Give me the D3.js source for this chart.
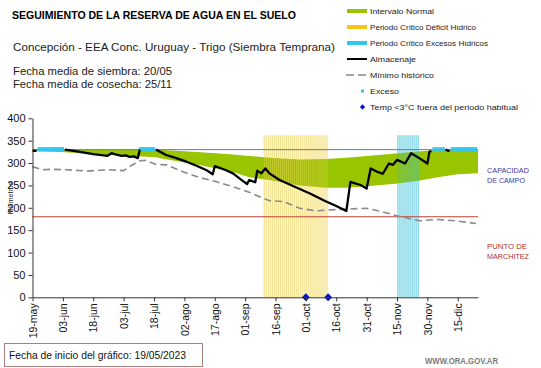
<!DOCTYPE html>
<html><head><meta charset="utf-8">
<script src="https://cdn.jsdelivr.net/npm/d3@7"></script>
<style>body{margin:0;background:#fff}svg{display:block;font-family:"Liberation Sans",Arial,sans-serif}</style>
</head><body>
<svg id="c" width="541" height="368"></svg>
<script>
// ---- data (days counted from 19-may-2023) ----
const startDate = "2023-05-19";
const endDay = 220;
const tickDays = [0,15,30,45,60,75,90,105,120,135,150,165,180,195,210];
const tickLabels = ["19-may","03-jun","18-jun","03-jul","18-jul","02-ago","17-ago","01-sep","16-sep","01-oct","16-oct","31-oct","15-nov","30-nov","15-dic"];
const yTicks = [0,50,100,150,200,250,300,350,400];

const bandDays  = [0,16,37,52,61,65,83,99,107,117,132,145,155,165,178,190,200,210,220];
const bandUpper = [330,330,330,330,330,329,324,319,316,312,308,309,312,316,321,326,329,330,330];
const bandLower = [328,324,318,315,313,309,295,280,268,262,250,245,245,248,253,260,268,275,277];

const almDays = [0,1,2,3, 16,22,30,37,39,42,44,46,48,50,52,53,54,
  61,66,71,76,81,86,89,90,95,99,103,106,107,110,111,113,115,117,122,127,132,137,141,145,150,155,157,162,165,167,170,173,176,178,180,184,187,191,195,196,197,198,
  204,205,206];
const almVals = [327,327,327,null, 330,326,320,316,322,318,316,317,314,315,311,330,null,
  330,318,311,303,294,284,275,293,285,277,263,253,262,257,283,277,288,277,262,252,242,232,223,214,204,193,258,251,243,288,281,276,299,296,307,299,322,311,299,325,327,null,
  330,328,327];

const minDays = [0,3,5,9,17,27,33,38,45,49,53,56,61,66,74,83,91,99,107,114,117,124,132,140,145,155,165,173,180,185,191,200,209,219];
const minVals = [292,288,285,286,285,282,284,285,283,295,305,306,297,296,281,267,258,247,235,221,216,214,199,193,195,197,199,191,182,177,171,174,171,165];

const excesoDays = [3,4,5,6,7,8,9,10,11,12,13,14,15, 53,54,55,56,57,58,59,60, 198,199,200,201,202,203,207,208,209,210,211,212,213,214,215,216,217,218,219];
const excesoVal = 330;

const deficitDays = d3.range(114,146);   // periodo crítico déficit hídrico
const excesosDays = d3.range(180,191);   // periodo crítico excesos hídricos
const criticalTop = 362;

const frostDays = [135,146];
const capacidadCampo = 330;
const puntoMarchitez = 180;

const legendItems = ["Intervalo Normal","Periodo Crítico Déficit Hídrico","Periodo Crítico Excesos Hídricos","Almacenaje","Mínimo histórico","Exceso","Temp <3°C fuera del periodo habitual"];

// ---- drawing ----
const svg = d3.select("#c");
const t0 = new Date(startDate + "T00:00:00Z");
const D = d => new Date(t0.getTime() + d*864e5);
const x = d3.scaleUtc().domain([t0, D(endDay)]).range([32.5, 478]);
const y = d3.scaleLinear().domain([0,400]).range([297.3,118.3]);
const step = x(D(1)) - x(D(0));

const g = svg.append("g");

// critical period backgrounds
function periodBars(days, pale){
  g.append("g").selectAll("rect").data(days).join("rect")
    .attr("x", d=>x(D(d))).attr("width", step+0.05).attr("y", y(criticalTop))
    .attr("height", y(0)-y(criticalTop)).attr("fill", pale);
}
periodBars(deficitDays, "#fcf4cc");
periodBars(excesosDays, "#d2f1f6");

// normal interval band
const bandData = bandDays.map((d,i)=>({d, u:bandUpper[i], l:bandLower[i]}));
g.append("path").datum(bandData)
  .attr("d", d3.area().x(p=>x(D(p.d))).y0(p=>y(p.l)).y1(p=>y(p.u)))
  .attr("fill","#99c400");

// vertical stripes of critical periods
function stripes(days, col, op){
  g.append("g").selectAll("rect").data(days).join("rect")
    .attr("x", d=>x(D(d))+0.5).attr("width", 0.8).attr("y", y(criticalTop))
    .attr("height", y(0)-y(criticalTop)).attr("fill", col).attr("opacity",op);
}
stripes(deficitDays, "#ebd35a", 0.6);
stripes(excesosDays, "#38c0da", 0.7);

// reference lines
g.append("line").attr("x1",x(D(0))).attr("x2",x(D(endDay))).attr("y1",y(capacidadCampo)).attr("y2",y(capacidadCampo))
  .attr("stroke","#4f7fc0").attr("stroke-width",1);
g.append("line").attr("x1",x(D(0))).attr("x2",x(D(endDay))).attr("y1",y(puntoMarchitez)).attr("y2",y(puntoMarchitez))
  .attr("stroke","#c0403a").attr("stroke-width",1);

// minimum historical
g.append("path").datum(minDays.map((d,i)=>[d,minVals[i]]))
  .attr("d", d3.line().x(p=>x(D(p[0]))).y(p=>y(p[1])))
  .attr("fill","none").attr("stroke","#8a8a8a").attr("stroke-width",1.6).attr("stroke-dasharray","7,4");

// exceso markers
g.append("g").selectAll("rect").data(excesoDays).join("rect")
  .attr("x", d=>x(D(d))-step/2).attr("width", step+0.2).attr("y", y(excesoVal)-2.5).attr("height",4.5)
  .attr("fill","#33c6ea");

// almacenaje
g.append("path").datum(almDays.map((d,i)=>[d,almVals[i]]))
  .attr("d", d3.line().defined(p=>p[1]!=null).x(p=>x(D(p[0]))).y(p=>y(p[1])))
  .attr("fill","none").attr("stroke","#000").attr("stroke-width",2.3).attr("stroke-linejoin","round");

// frost diamonds
g.append("g").selectAll("path").data(frostDays).join("path")
  .attr("transform", d=>`translate(${x(D(d))},${y(0)})`)
  .attr("d", d3.symbol(d3.symbolDiamond2 || d3.symbolDiamond, 40)())
  .attr("fill","#0a14c8");

// axes
const yAx = svg.append("g").attr("transform",`translate(${x(D(0))},0)`)
  .call(d3.axisLeft(y).tickValues(yTicks).tickSize(4).tickSizeOuter(0).tickPadding(3));
yAx.selectAll("text").attr("font-size",11).attr("fill","#111").attr("font-family","Liberation Sans, Arial");
yAx.selectAll("line,path").attr("stroke","#333");

const xAx = svg.append("g").attr("transform",`translate(0,${y(0)})`)
  .call(d3.axisBottom(x).tickValues(tickDays.map(D)).tickFormat((d,i)=>tickLabels[i]).tickSize(4).tickSizeOuter(0));
xAx.selectAll("line,path").attr("stroke","#333");
xAx.selectAll("text").attr("font-size",10.5).attr("fill","#111").attr("font-family","Liberation Sans, Arial")
  .attr("transform","rotate(-90)").attr("x",-6).attr("y",0).attr("dy","0.35em").style("text-anchor","end");

// axis title
svg.append("text").attr("transform","translate(13,198) rotate(-90)").attr("text-anchor","middle")
  .attr("font-size",7).attr("fill","#222").text("Milímetros");

// titles
function txt(s, xx, yy, size, opts={}){
  const t = svg.append("text").attr("x",xx).attr("y",yy).attr("font-size",size).attr("fill",opts.fill||"#111").text(s);
  if(opts.bold) t.attr("font-weight","bold");
  if(opts.len) t.attr("textLength",opts.len).attr("lengthAdjust","spacingAndGlyphs");
  if(opts.family) t.attr("font-family",opts.family);
  return t;
}
txt("SEGUIMIENTO DE LA RESERVA DE AGUA  EN EL SUELO", 12, 19, 10, {bold:true, len:284, fill:"#000"});
txt("Concepción - EEA Conc. Uruguay  - Trigo (Siembra Temprana)", 13, 51, 11, {len:322, fill:"#222"});
txt("Fecha media de siembra: 20/05", 13, 75, 11, {len:159, fill:"#222"});
txt("Fecha media de cosecha: 25/11", 13, 88, 11, {len:159, fill:"#222"});

// right labels
txt("CAPACIDAD", 487, 173, 8, {fill:"#3a3aa8", len:42});
txt("DE  CAMPO", 487, 182.5, 8, {fill:"#3a3aa8", len:38});
txt("PUNTO  DE", 487, 249, 8, {fill:"#b03030", len:40});
txt("MARCHITEZ", 487, 258.5, 8, {fill:"#b03030", len:42});

// legend
const lg = svg.append("g");
const ly = [11,27,43,59,75,91,107];
const lens = [64,106,118,46,64,29,148];
lg.append("line").attr("x1",347).attr("x2",367).attr("y1",ly[0]).attr("y2",ly[0]).attr("stroke","#99c400").attr("stroke-width",4);
lg.append("line").attr("x1",347).attr("x2",367).attr("y1",ly[1]).attr("y2",ly[1]).attr("stroke","#f5c518").attr("stroke-width",4);
lg.append("line").attr("x1",347).attr("x2",367).attr("y1",ly[2]).attr("y2",ly[2]).attr("stroke","#2ec8f0").attr("stroke-width",4);
lg.append("line").attr("x1",347).attr("x2",367).attr("y1",ly[3]).attr("y2",ly[3]).attr("stroke","#000").attr("stroke-width",2);
lg.append("line").attr("x1",346).attr("x2",368).attr("y1",ly[4]).attr("y2",ly[4]).attr("stroke","#8a8a8a").attr("stroke-width",1.6).attr("stroke-dasharray","8,4");
lg.append("rect").attr("x",361).attr("y",ly[5]-1.5).attr("width",3).attr("height",3).attr("fill","#33c6ea");
lg.append("path").attr("transform",`translate(362.5,${ly[6]})`).attr("d",d3.symbol(d3.symbolDiamond2||d3.symbolDiamond,18)()).attr("fill","#0a14c8");
legendItems.forEach((s,i)=>{
  lg.append("text").attr("x",370).attr("y",ly[i]+2.7).attr("font-size",7.5).attr("fill","#222")
    .attr("textLength",lens[i]).attr("lengthAdjust","spacingAndGlyphs").text(s);
});

// footer
svg.append("rect").attr("x",4.5).attr("y",343.5).attr("width",198).attr("height",23).attr("fill","#fff").attr("stroke","#a88080").attr("stroke-width",1);
txt("Fecha de inicio del gráfico:  19/05/2023", 9, 359, 11, {len:177, fill:"#111"});
txt("WWW.ORA.GOV.AR", 425, 364, 9, {fill:"#7a7a7a", len:73, bold:true});
</script>
</body></html>
